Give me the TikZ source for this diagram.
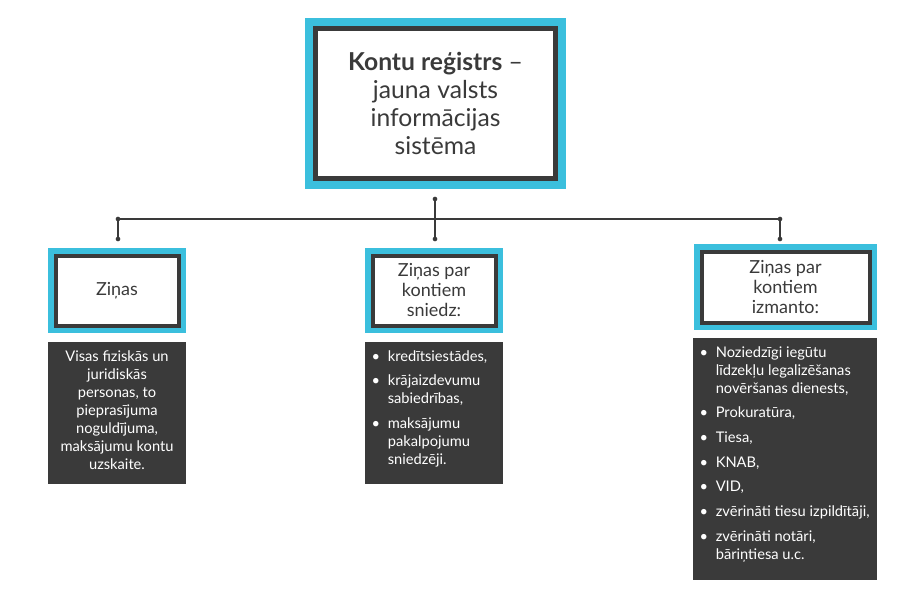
\documentclass[tikz,border=0pt]{standalone}
\usepackage{fontspec}
\setmainfont{Lato}
\usetikzlibrary{positioning}
\definecolor{regcyan}{HTML}{3BBFDD}
\definecolor{regdark}{HTML}{3A3A3A}
\def\pxu{0.75pt}
\newcommand{\itm}[1]{\par\hangindent=1.1em\hangafter=1\noindent\makebox[1.1em][l]{\textbullet}#1\par\vspace{5pt}}
\newcommand{\infobox}[3]{\parbox[t][#1][t]{#2}{#3}}

\begin{document}
\begin{tikzpicture}[
		x=0.75pt, y=-0.75pt,
		outer/.style={fill=regcyan, inner sep=0pt},
		frame/.style={draw=regdark, fill=white, inner sep=0pt, align=center, text=regdark},
		info/.style={fill=regdark, text=white, inner xsep=5pt, inner ysep=0pt, anchor=north, font=\fontsize{11}{13.5}\selectfont},
		dot/.style={circle, fill=regdark, inner sep=0pt, minimum size=3.5pt}
		]
		\useasboundingbox (0,0) rectangle (900,600);
		
		% ==========================================
		% TOP BOX
		% ==========================================
		\node[outer, minimum width={261*\pxu}, minimum height={171*\pxu}] (topout) at (435.5,103.5) {};
		\node[frame, line width=3.8pt, minimum width={240*\pxu}, minimum height={150*\pxu},
			font=\fontsize{18.5}{21}\selectfont] (top) at (topout.center)
			{\textbf{Kontu reģistrs} --\\ jauna valsts\\ informācijas\\ sistēma};
		
		% ==========================================
		% SECOND ROW
		% ==========================================
		\node[outer, minimum width={138*\pxu}, minimum height={85*\pxu}] (dataout) at (117,290.5) {};
		\node[frame, line width=3pt, minimum width={123*\pxu}, minimum height={70*\pxu},
			font=\fontsize{13.5}{15}\selectfont] (data) at (dataout.center) {Ziņas};
		
		\node[outer, minimum width={138*\pxu}, minimum height={85*\pxu}] (giveout) at (434,290.5) {};
		\node[frame, line width=3pt, minimum width={123*\pxu}, minimum height={70*\pxu},
			font=\fontsize{13.5}{15}\selectfont] (give) at (giveout.center) {Ziņas par\\ kontiem\\ sniedz:};
		
		\node[outer, minimum width={183*\pxu}, minimum height={86*\pxu}] (useout) at (785.5,287) {};
		\node[frame, line width=3pt, minimum width={168*\pxu}, minimum height={71*\pxu},
			font=\fontsize{13.5}{15}\selectfont] (use) at (useout.center) {Ziņas par\\ kontiem\\ izmanto:};
		
		% ==========================================
		% DARK BOXES
		% ==========================================
		\node[info, inner xsep=0pt] (datainfo) at (117,342)
			{\infobox{106.5pt}{103.5pt}{\centering\vspace{6pt}Visas fiziskās un\\ juridiskās\\ personas, to\\ pieprasījuma\\ noguldījuma,\\ maksājumu kontu\\ uzskaite.}};
		
		\node[info] (giveinfo) at (434,342)
			{\infobox{106.5pt}{93.5pt}{\raggedright\vspace{6pt}
			\itm{kredītsiestādes,}
			\itm{krājaizdevumu sabiedrības,}
			\itm{maksājumu pakalpojumu sniedzēji.}}};
		
		\node[info] (useinfo) at (785,338)
			{\infobox{181.5pt}{128pt}{\raggedright\vspace{6pt}
			\itm{Noziedzīgi iegūtu līdzekļu legalizēšanas novēršanas dienests,}
			\itm{Prokuratūra,}
			\itm{Tiesa,}
			\itm{KNAB,}
			\itm{VID,}
			\itm{zvērināti tiesu izpildītāji,}
			\itm{zvērināti notāri, bāriņtiesa u.c.}}};
		
		% ==========================================
		% CONNECTORS
		% ==========================================
		\coordinate (hub) at (435,219);
		\coordinate (hubl) at (118,219);
		\coordinate (hubr) at (780,219);
		\node[dot] (ptop) at (435,199) {};
		\node[dot] (pl) at (118,239) {};
		\node[dot] (pm) at (435,239) {};
		\node[dot] (pr) at (780,239) {};
		\node[dot] at (hubl) {};
		\node[dot] at (hubr) {};
		\draw[regdark, line width=1.2pt] (ptop.center) -- (pm.center);
		\draw[regdark, line width=1.2pt] (pl.center) -- (hubl) -- (hubr) -- (pr.center);
	\end{tikzpicture}
\end{document}
